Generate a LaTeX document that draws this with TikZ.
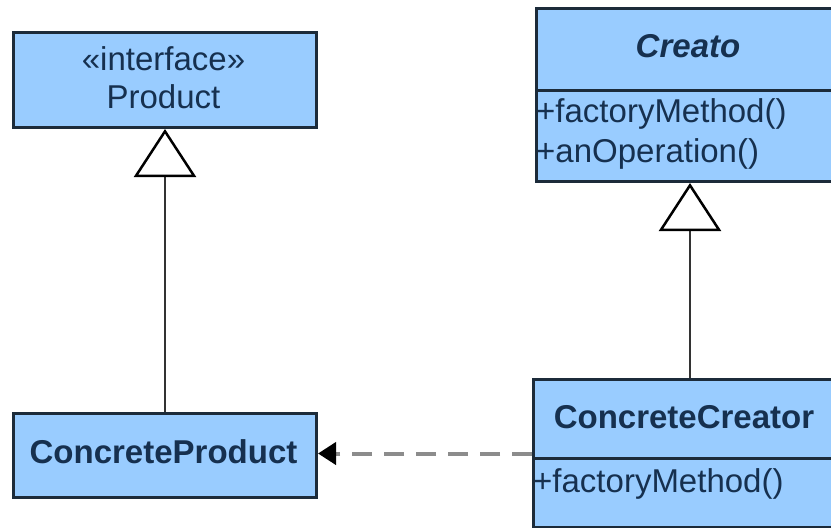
\documentclass[tikz,border=0pt]{standalone}
\usepackage{fontspec}
\setmainfont{Liberation Sans}
\usetikzlibrary{arrows.meta}
\definecolor{boxfill}{HTML}{99CCFF}
\definecolor{boxline}{HTML}{1C2B3A}
\definecolor{ink}{HTML}{16304F}
\definecolor{dep}{HTML}{8C8C8C}
\definecolor{wire}{HTML}{333333}
\tikzset{
  classbox/.style={draw=boxline, fill=boxfill, line width=3pt, inner sep=0pt,
    anchor=north west},
  divider/.style={draw=boxline, line width=3pt},
  txt/.style={text=ink, font=\fontsize{33}{40}\selectfont, inner sep=0pt, anchor=base},
  txtleft/.style={txt, anchor=base west},
  generalization/.style={draw=wire, line width=2pt,
    -{Triangle[open, length=48pt, width=62pt, line width=2.5pt, fill=white, color=black]}},
  dependency/.style={draw=dep, line width=4pt, dash pattern=on 20pt off 12pt,
    -{Triangle[length=18pt, width=22pt, color=black]}},
}
\begin{document}
\begin{tikzpicture}[x=1pt, y=-1pt]
  \useasboundingbox (0,0) rectangle (831,528);
  \fill[white] (0,0) rectangle (831,528);
  \begin{scope}
    \clip (0,0) rectangle (831,528);

    % interface Product
    \node[classbox, minimum width=303pt, minimum height=95pt] (p) at (12,31) {};
    \node[txt] (pst) at (163.5,70) {«interface»};
    \node[txt] (pname) at (163.5,108) {Product};

    % ConcreteProduct
    \node[classbox, minimum width=303pt, minimum height=84pt] (cp) at (12,412) {};
    \node[txt, font=\bfseries\fontsize{33}{40}\selectfont] (cpname) at (163.5,463) {ConcreteProduct};

    % abstract Creator (runs past the right edge)
    \node[classbox, minimum width=307pt, minimum height=173pt] (c) at (535,7) {};
    \draw[divider] (c.west |- 0,90) -- (c.east |- 0,90);
    \node[txt, font=\bfseries\itshape\fontsize{33}{40}\selectfont] (cname) at (688,57) {Creato};
    \node[txtleft] (cm1) at (536,122) {+factoryMethod()};
    \node[txtleft] (cm2) at (536,162) {+anOperation()};

    % ConcreteCreator (runs past the right edge)
    \node[classbox, minimum width=310pt, minimum height=148pt] (cc) at (532,378) {};
    \draw[divider] (cc.west |- 0,458) -- (cc.east |- 0,458);
    \node[txt, font=\bfseries\fontsize{33}{40}\selectfont] (ccname) at (684,428) {ConcreteCreator};
    \node[txtleft] (ccm1) at (533,492) {+factoryMethod()};

    % relations
    \draw[generalization] (cp.north) -- (p.south);
    \draw[generalization] (c.south |- cc.north) -- (c.south);
    \draw[dependency] (cc.west) -- (cp.east |- cc.west);
  \end{scope}
\end{tikzpicture}
\end{document}
